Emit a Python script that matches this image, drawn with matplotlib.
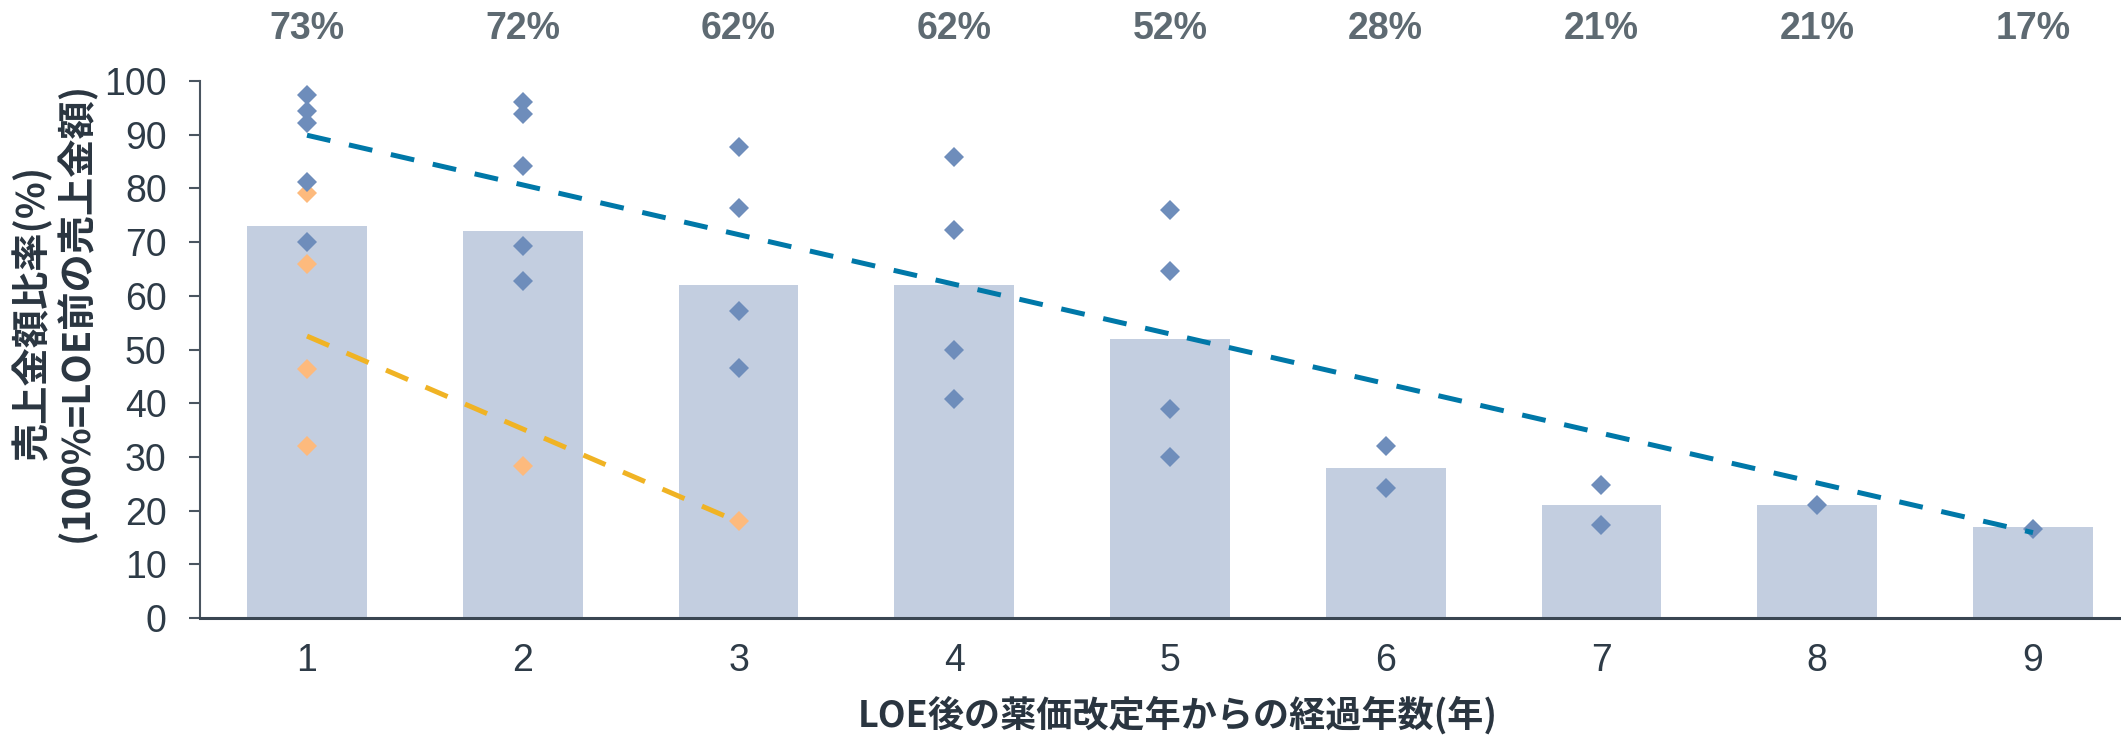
import matplotlib
matplotlib.use("Agg")
import matplotlib.pyplot as plt
from matplotlib.transforms import blended_transform_factory

# Median sales ratio per year after the LOE price revision (%)
years = [1, 2, 3, 4, 5, 6, 7, 8, 9]
median_ratio = [73, 72, 62, 62, 52, 28, 21, 21, 17]

# Individual products (blue group)
blue_years = [1, 1, 1, 1, 1,
              2, 2, 2, 2, 2,
              3, 3, 3, 3,
              4, 4, 4, 4,
              5, 5, 5, 5,
              6, 6,
              7, 7,
              8,
              9]
blue_values = [97.3, 94.5, 92.1, 81.2, 70.1,
               96.0, 93.9, 84.1, 69.3, 62.7,
               87.8, 76.4, 57.1, 46.6,
               85.8, 72.2, 49.9, 40.7,
               76.0, 64.6, 38.9, 30.0,
               32.1, 24.2,
               24.8, 17.4,
               21.0,
               16.6]

# Individual products (orange group)
orange_years = [1, 1, 1, 1, 2, 3]
orange_values = [79.2, 65.9, 46.3, 32.1, 28.3, 18.1]

# Trend lines (start / end)
blue_trend_years = [1, 9]
blue_trend_values = [89.9, 15.9]
orange_trend_years = [1, 3]
orange_trend_values = [52.5, 17.9]

y_ticks = [0, 10, 20, 30, 40, 50, 60, 70, 80, 90, 100]

BAR = "#C3CEE0"
BLUE_PT = "#6E8DBB"
ORANGE_PT = "#FDBA7D"
BLUE_LINE = "#0078A8"
ORANGE_LINE = "#F0B324"
TICK_TXT = "#2E3B47"
TOP_TXT = "#5E6A72"
AXIS_TXT = "#2A3540"

plt.rcParams["font.family"] = ["Liberation Sans", "DejaVu Sans"]
JP = ["Noto Sans CJK JP", "DejaVu Sans"]

W, H = 2121, 735
fig = plt.figure(figsize=(W / 100, H / 100), dpi=100)
ax = fig.add_axes([200 / W, 1 - 618 / H, 1 - 200 / W, (618 - 81) / H])

ax.bar(years, median_ratio, width=0.556, color=BAR, zorder=1)

ax.plot(orange_years, orange_values, linestyle="none", marker="D",
        markersize=10.2, markeredgewidth=0, color=ORANGE_PT, zorder=2)
ax.plot(blue_years, blue_values, linestyle="none", marker="D",
        markersize=10.2, markeredgewidth=0, color=BLUE_PT, zorder=3)

ax.plot(blue_trend_years, blue_trend_values, color=BLUE_LINE, lw=3.6,
        dashes=(4.8, 3.8), dash_capstyle="butt", zorder=4)
ax.plot(orange_trend_years, orange_trend_values, color=ORANGE_LINE, lw=3.6,
        dashes=(4.8, 3.8), dash_capstyle="butt", zorder=4)

ax.set_xlim(0.504, 9.408)
ax.set_ylim(0, 100)
ax.set_yticks(y_ticks)
ax.set_xticks(years)

for side in ("top", "right"):
    ax.spines[side].set_visible(False)
ax.spines["left"].set_color("#4A5560")
ax.spines["left"].set_linewidth(1.5)
ax.spines["bottom"].set_color("#3A4652")
ax.spines["bottom"].set_linewidth(2.2)

ax.tick_params(axis="y", direction="out", length=8, width=1.5, color="#4A5560",
               labelsize=27, labelcolor=TICK_TXT, pad=16)
ax.tick_params(axis="x", length=0, labelsize=27, labelcolor=TICK_TXT, pad=18)

# Percentage labels above the plot area
trans = blended_transform_factory(ax.transData, fig.transFigure)
for x, v in zip(years, median_ratio):
    ax.text(x, 1 - 29 / H, f"{v}%", transform=trans, ha="center", va="center",
            fontsize=27, fontweight="bold", color=TOP_TXT)

fig.text(1178 / W, 1 - 715 / H, "LOE後の薬価改定年からの経過年数(年)",
         ha="center", va="center", fontsize=26, fontweight="bold",
         family=JP, color=AXIS_TXT)
fig.text(54 / W, 1 - 312 / H, "売上金額比率(%)\n(100%=LOE前の売上金額)",
         rotation=90, ha="center", va="center", multialignment="center",
         fontsize=27.5, fontweight="bold", family=JP, color=AXIS_TXT,
         linespacing=1.1)

fig.savefig("out.png", dpi=100)
